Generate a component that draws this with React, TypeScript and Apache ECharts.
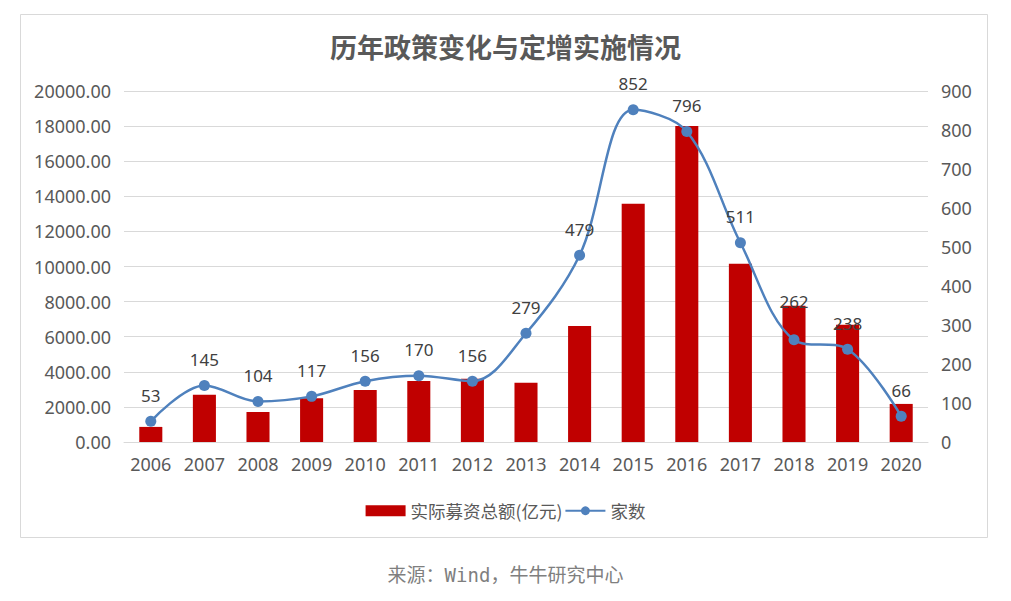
import React, { useEffect, useRef } from "react";
import * as echarts from "echarts";

const years = ["2006","2007","2008","2009","2010","2011","2012","2013","2014","2015","2016","2017","2018","2019","2020"];
const amounts = [860, 2690, 1710, 2500, 2970, 3470, 3600, 3370, 6610, 13580, 18000, 10160, 7760, 6680, 2170];
const counts = [53, 145, 104, 117, 156, 170, 156, 279, 479, 852, 796, 511, 262, 238, 66];
const barName = "实际募资总额(亿元)";
const lineName = "家数";

export default function App() {
  const ref = useRef<HTMLDivElement>(null);
  useEffect(() => {
    document.body.style.margin = "0";
    const chart = echarts.init(ref.current!, null, { renderer: "svg" });
    const axisLabel = { color: "#595959", fontSize: 18, fontFamily: "Noto Sans, Noto Sans CJK SC" };
    const lineData = counts.map((v, i) => (years[i] === "2018" ? { value: v, label: { distance: 24 } } : v));
    chart.setOption({
      animation: false,
      backgroundColor: "#fff",
      title: {
        text: "历年政策变化与定增实施情况",
        left: "center",
        top: 28,
        textStyle: { color: "#595959", fontSize: 27, fontWeight: "bold", fontFamily: "Noto Sans CJK SC" },
      },
      graphic: [
        { type: "rect", shape: { x: 20.5, y: 14.5, width: 967, height: 523 }, style: { fill: "none", stroke: "#d9d9d9", lineWidth: 1 }, z: -1 },
        { type: "text", left: "center", top: 565, style: { text: "来源：Wind，牛牛研究中心", fill: "#7f7f7f", fontSize: 19, fontFamily: "DejaVu Sans Mono, Noto Sans CJK SC" } },
      ],
      legend: {
        top: 497,
        left: "center",
        itemWidth: 40,
        itemHeight: 11,
        itemGap: 2,
        textStyle: { color: "#595959", fontSize: 17.5, fontFamily: "Noto Sans CJK SC" },
        data: [{ name: barName, icon: "rect" }, { name: lineName }],
      },
      grid: { left: 124, right: 83, top: 91, bottom: 159 },
      xAxis: {
        type: "category",
        data: years,
        axisTick: { show: false },
        axisLine: { lineStyle: { color: "#d9d9d9" } },
        axisLabel: { ...axisLabel, margin: 13 },
      },
      yAxis: [
        {
          type: "value",
          min: 0,
          max: 20000,
          interval: 2000,
          axisLabel: { ...axisLabel, margin: 13, formatter: (v: number) => v.toFixed(2) },
          axisLine: { show: false },
          axisTick: { show: false },
          splitLine: { lineStyle: { color: "#d9d9d9" } },
        },
        {
          type: "value",
          min: 0,
          max: 900,
          interval: 100,
          axisLabel: { ...axisLabel, margin: 13 },
          axisLine: { show: false },
          axisTick: { show: false },
          splitLine: { show: false },
        },
      ],
      series: [
        {
          name: barName,
          type: "bar",
          data: amounts,
          barWidth: "43%",
          itemStyle: { color: "#c00000" },
        },
        {
          name: lineName,
          type: "line",
          yAxisIndex: 1,
          data: lineData,
          smooth: 0.35,
          symbol: "circle",
          symbolSize: 11,
          lineStyle: { color: "#4f81bd", width: 2.5 },
          itemStyle: { color: "#4f81bd" },
          label: { show: true, position: "top", distance: 12, color: "#404040", fontSize: 17, fontFamily: "Noto Sans" },
        },
      ],
    });
    return () => chart.dispose();
  }, []);
  return <div ref={ref} style={{ width: 1011, height: 601 }} />;
}
